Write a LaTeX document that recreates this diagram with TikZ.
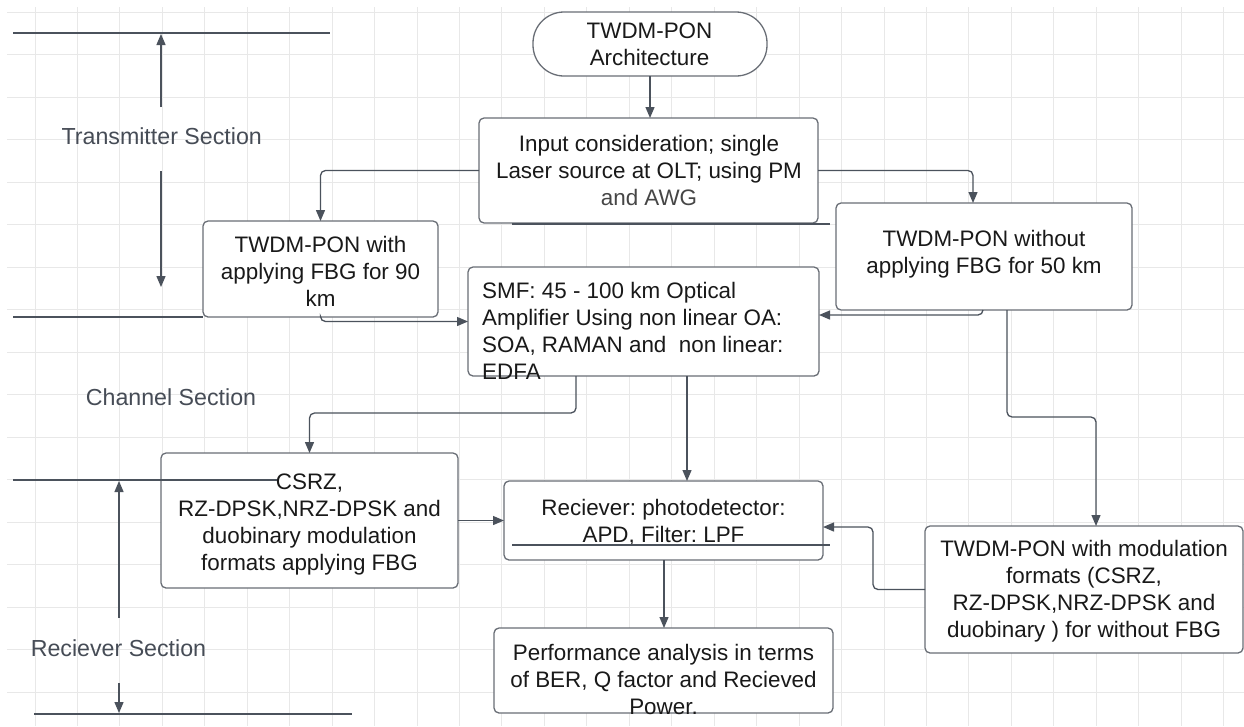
\documentclass[tikz,border=0pt]{standalone}
\usepackage{fontspec}
\setmainfont{Liberation Sans}
\usetikzlibrary{arrows.meta}
\definecolor{gridc}{RGB}{232,232,232}
\definecolor{boxc}{RGB}{105,110,118}
\definecolor{linec}{RGB}{75,82,92}
\definecolor{labc}{RGB}{70,76,86}
\definecolor{txtc}{RGB}{25,25,25}
\definecolor{txtg}{RGB}{70,70,70}
\begin{document}
\begin{tikzpicture}[x=1pt,y=-1pt,
 box/.style={draw=boxc, line width=1.3pt, fill=white, rounded corners=5pt, inner sep=0pt, outer sep=0pt},
 txt/.style={font=\fontsize{22.4}{26.8}\selectfont\frenchspacing, text=txtc, align=center, inner sep=0pt, anchor=base},
 lab/.style={font=\fontsize{23.2}{27}\selectfont, text=labc, inner sep=0pt, anchor=base},
 conn/.style={draw=linec, line width=1.3pt, rounded corners=5pt, -{Triangle[length=11pt,width=9pt]}},
 sect/.style={draw=linec, line width=1.3pt},
 sarr/.style={draw=linec, line width=1.3pt, -{Triangle[length=11pt,width=9pt]}}]
\useasboundingbox[fill=white] (0,0) rectangle (1244,726);
% grid
\foreach \i in {0,...,28} \draw[gridc, line width=1pt] (35+\i*42.45,7) -- (35+\i*42.45,726);
\foreach \j in {0,...,16} \draw[gridc, line width=1pt] (7,12+\j*42.5) -- (1244,12+\j*42.5);
% boxes
\node[box, rounded corners=31pt, minimum width=234pt, minimum height=64pt] (top) at (650,44) {};
\node[box, minimum width=339pt, minimum height=105pt] (input) at (648.5,170.5) {};
\node[box, minimum width=235pt, minimum height=96pt] (b90) at (320.5,269) {};
\node[box, minimum width=296pt, minimum height=107pt] (wo) at (984,256.5) {};
\node[box, minimum width=351pt, minimum height=109pt] (smf) at (643.5,321.5) {};
\node[box, minimum width=297pt, minimum height=135pt] (csrz) at (309.5,520.5) {};
\node[box, minimum width=319pt, minimum height=79pt] (rx) at (663.5,520.5) {};
\node[box, minimum width=339pt, minimum height=85pt] (perf) at (663.5,670.5) {};
\node[box, minimum width=318pt, minimum height=127pt] (mod) at (1084,589.5) {};
% texts (anchor = baseline of the last line)
\node[txt] (ttop) at (649.5,65) {TWDM-PON\\Architecture};
\node[txt] (tinput) at (649,205.5) {Input consideration; single\\Laser source at OLT; using PM\\\textcolor{txtg}{and AWG}};
\node[txt] (tb90) at (320.5,306) {TWDM-PON with\\applying FBG for 90\\km};
\node[txt] (two) at (984,273) {TWDM-PON without\\applying FBG for 50 km};
\node[txt, align=left, anchor=base west] (tsmf) at (482,379) {SMF: 45 - 100 km Optical\\Amplifier Using non linear OA:\\SOA, RAMAN and\ \ non linear:\\EDFA};
\node[txt] (tcsrz) at (309.5,570) {CSRZ,\\RZ-DPSK,NRZ-DPSK and\\duobinary modulation\\formats applying FBG};
\node[txt] (trx) at (663.5,542.7) {Reciever: photodetector:\\APD, Filter: LPF};
\node[txt] (tperf) at (663.5,714.3) {Performance analysis in terms\\of BER, Q factor and Recieved\\Power.};
\node[txt] (tmod) at (1084,637.3) {TWDM-PON with modulation\\formats (CSRZ,\\RZ-DPSK,NRZ-DPSK and\\duobinary ) for without FBG};
% section labels
\node[lab] (ltx) at (161.7,144.3) {Transmitter Section};
\node[lab] (lch) at (171,405) {Channel Section};
\node[lab] (lrx) at (118.5,656) {Reciever Section};
% connectors
\draw[conn] (top.south) -- (top.south |- input.north);
\draw[conn] (input.west) -| (b90.north);
\draw[conn] (input.east) -| ([xshift=-11pt]wo.north);
\draw[conn] (b90.south) |- (smf.west);
\draw[conn] ([xshift=-1pt]wo.south) |- ([yshift=6.5pt]smf.east);
\draw[conn] ([xshift=23pt]wo.south) -- ++(0,107) -| ([xshift=12pt]mod.north);
\draw[conn] ([xshift=-67.5pt]smf.south) -- ++(0,37) -| (csrz.north);
\draw[conn] ([xshift=43.5pt]smf.south) -- ([xshift=23.5pt]rx.north);
\draw[conn] (csrz.east) -- (rx.west);
\draw[conn] (mod.west) -- ++(-52,0) |- ([yshift=-6.5pt]rx.east);
\draw[conn] ([xshift=0.5pt]rx.south) -- ([xshift=0.5pt]perf.north);
% section lines and stray lines
\coordinate (s1a) at (13,33); \coordinate (s1b) at (330,33);
\coordinate (s2a) at (13,317); \coordinate (s2b) at (203,317);
\coordinate (s3a) at (13,480); \coordinate (s3b) at (277,480);
\coordinate (s4a) at (34,714); \coordinate (s4b) at (352,714);
\coordinate (x1a) at (512,224); \coordinate (x1b) at (830,224);
\coordinate (x2a) at (512,545); \coordinate (x2b) at (830,545);
\draw[sect] (s1a) -- (s1b);
\draw[sect] (s2a) -- (s2b);
\draw[sect] (s3a) -- (s3b);
\draw[sect] (s4a) -- (s4b);
\draw[sect] (x1a) -- (x1b);
\draw[sect] (x2a) -- (x2b);
% section arrows
\coordinate (ta1) at (161,107); \coordinate (ta2) at (161,34);
\coordinate (ta3) at (161,171); \coordinate (ta4) at (161,287);
\coordinate (ra1) at (119,618); \coordinate (ra2) at (119,481);
\coordinate (ra3) at (119,683); \coordinate (ra4) at (119,713);
\draw[sarr] (ta1) -- (ta2);
\draw[sarr] (ta3) -- (ta4);
\draw[sarr] (ra1) -- (ra2);
\draw[sarr] (ra3) -- (ra4);
\end{tikzpicture}
\end{document}
